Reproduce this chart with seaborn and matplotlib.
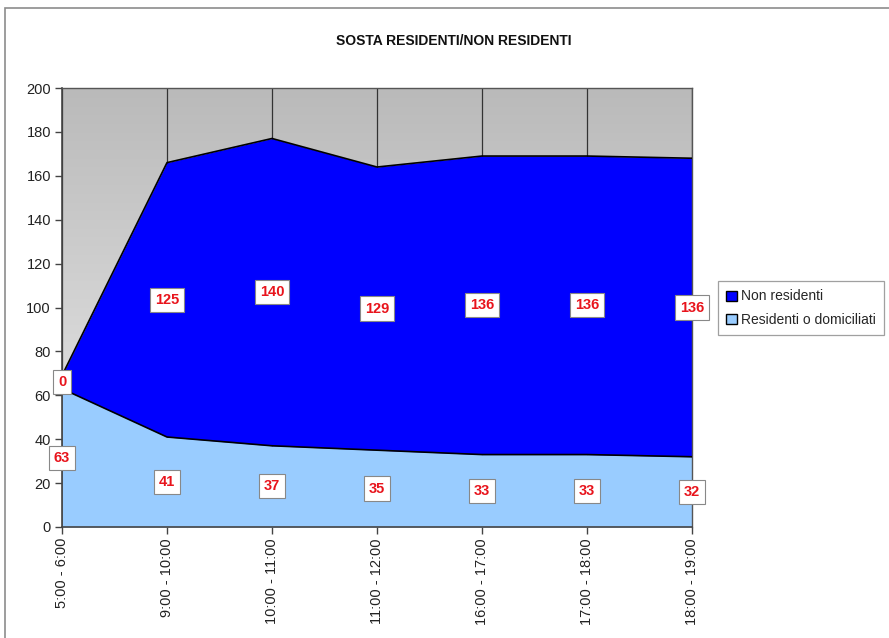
import matplotlib
matplotlib.use("Agg")
import matplotlib.pyplot as plt
import matplotlib.patches as mpatches
import seaborn as sns
import pandas as pd
import numpy as np

# data
fasce = ["5:00 - 6:00", "9:00 - 10:00", "10:00 - 11:00", "11:00 - 12:00",
         "16:00 - 17:00", "17:00 - 18:00", "18:00 - 19:00"]
residenti = [63, 41, 37, 35, 33, 33, 32]
non_residenti = [6, 125, 140, 129, 136, 136, 136]
# labels as printed on the chart (first one reads 0 in the source)
lab_residenti = ["63", "41", "37", "35", "33", "33", "32"]
lab_non_residenti = ["0", "125", "140", "129", "136", "136", "136"]

df = pd.DataFrame({"x": range(len(fasce)), "fascia": fasce,
                   "res": residenti, "nonres": non_residenti})
df["tot"] = df["res"] + df["nonres"]

sns.set_theme(style="white")
plt.rcParams["font.family"] = ["Liberation Sans", "DejaVu Sans"]

fig = plt.figure(figsize=(8.89, 6.38), dpi=100)
ax = fig.add_axes([62 / 889, 1 - 527 / 638, 630 / 889, 439 / 638])

# outer chart border
fig.patches.append(mpatches.Rectangle((5 / 889, -0.05), 1.1, 1 - 8 / 638 + 0.05,
                                      transform=fig.transFigure, fill=False,
                                      edgecolor="#8c8c8c", linewidth=1.2))

# plot area gradient background
grad = np.linspace(0, 1, 256).reshape(-1, 1)
cmap = matplotlib.colors.LinearSegmentedColormap.from_list("bg", ["#ececec", "#bababa"])
ax.imshow(grad, extent=[0, 6, 0, 200], origin="lower", aspect="auto", cmap=cmap, zorder=0)

ax.fill_between(df["x"], 0, df["res"], color="#99ccff", zorder=2, linewidth=0,
                label="Residenti o domiciliati")
ax.fill_between(df["x"], df["res"], df["tot"], color="#0000ff", zorder=2, linewidth=0,
                label="Non residenti")
sns.lineplot(data=df, x="x", y="res", color="black", linewidth=1.2, ax=ax, zorder=3,
             legend=False)
sns.lineplot(data=df, x="x", y="tot", color="black", linewidth=1.2, ax=ax, zorder=3,
             legend=False)

for x in df["x"]:
    ax.axvline(x, color="#333333", linewidth=0.9, zorder=1)

box = dict(boxstyle="square,pad=0.35", facecolor="white", edgecolor="#888888", linewidth=0.8)
for i in range(len(fasce)):
    ax.text(i, residenti[i] / 2, lab_residenti[i], ha="center", va="center", color="#e8141c",
            fontsize=10.5, fontweight="bold", bbox=box, zorder=5, clip_on=False)
    ax.text(i, residenti[i] + non_residenti[i] / 2, lab_non_residenti[i], ha="center",
            va="center", color="#e8141c", fontsize=10.5, fontweight="bold", bbox=box,
            zorder=5, clip_on=False)

ax.set_xlim(0, 6)
ax.set_ylim(0, 200)
ax.set_yticks(range(0, 201, 20))
ax.set_xticks(df["x"])
ax.set_xticklabels(fasce, rotation=90)
ax.set_xlabel("")
ax.set_ylabel("")
ax.tick_params(axis="both", direction="out", length=5, width=1, color="#444444",
               labelsize=10.5, labelcolor="#222222", bottom=True, left=True, pad=3)
for side in ["left", "bottom"]:
    ax.spines[side].set_color("#444444")
    ax.spines[side].set_linewidth(1.2)
ax.spines["top"].set_color("#555555")
ax.spines["right"].set_color("#555555")
ax.spines["top"].set_linewidth(1.0)
ax.spines["right"].set_linewidth(1.0)

handles = [mpatches.Patch(facecolor="#0000ff", edgecolor="black", label="Non residenti"),
           mpatches.Patch(facecolor="#99ccff", edgecolor="black", label="Residenti o domiciliati")]
leg = fig.legend(handles=handles, loc="center left", bbox_to_anchor=(718 / 889, 1 - 308 / 638),
                 frameon=True, fancybox=False, fontsize=10, handlelength=0.75,
                 handleheight=0.75, handletextpad=0.3, borderpad=0.6, labelspacing=0.65,
                 borderaxespad=0)
leg.get_frame().set_edgecolor("#888888")
leg.get_frame().set_linewidth(0.9)

fig.text(454 / 889, 1 - 41 / 638, "SOSTA RESIDENTI/NON RESIDENTI", ha="center", va="center",
         fontsize=10, fontweight="bold", color="#111111")

fig.savefig("out.png", dpi=100)
